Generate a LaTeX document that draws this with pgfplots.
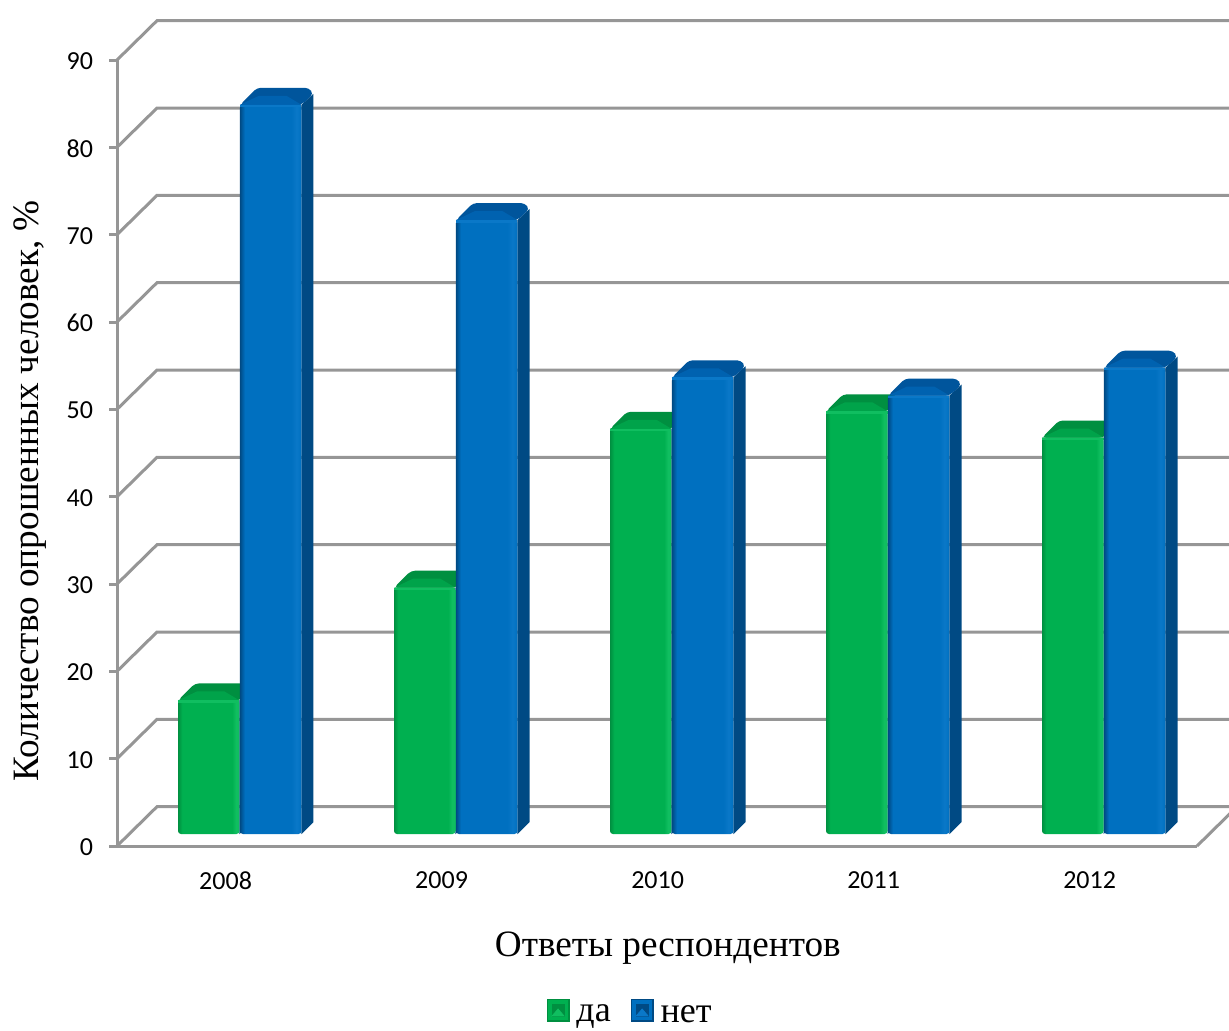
\documentclass[border=0pt]{standalone}
\usepackage{fontspec}
\setmainfont{Liberation Serif}
\newfontfamily\ticksfont{Carlito}
\usepackage{pgfplots}
\pgfplotsset{compat=1.18}

\definecolor{wallgray}{HTML}{969696}
\definecolor{grFace}{HTML}{00B050}
\definecolor{grTopDark}{HTML}{008F40}
\definecolor{grTop}{HTML}{00A34A}
\definecolor{grRim}{HTML}{10BE60}
\definecolor{blFace}{HTML}{0070C0}
\definecolor{blSide}{HTML}{004A84}
\definecolor{blTopDark}{HTML}{00559C}
\definecolor{blTop}{HTML}{0062B0}
\definecolor{blRim}{HTML}{0A78C8}

% Bar fronts: the path fills the middle half (25bp to 75bp) of these shadings.
\pgfdeclarehorizontalshading{grShade}{100bp}{
  color(0bp)=(grTopDark); color(25bp)=(grTopDark); color(28.5bp)=(grFace); color(69bp)=(grFace); color(72bp)=(grRim); color(75bp)=(grRim); color(100bp)=(grRim)}
\pgfdeclarehorizontalshading{blShade}{100bp}{
  color(0bp)=(blSide); color(25bp)=(blSide); color(29bp)=(blFace); color(67bp)=(blFace); color(71bp)=(blRim); color(75bp)=(blFace); color(100bp)=(blFace)}

% A bar with a front, a side and a bevelled top; sizes below are in axis units.
\def\pxy{0.11451}
\newcommand\threedbar[4]{% group, offset from the group, value, colour prefix
  \pgfmathsetmacro\xa{#1+#2}
  \pgfmathsetmacro\xb{\xa+0.2847}
  \pgfmathsetmacro\xc{\xb+0.0556}
  \pgfmathsetmacro\xd{\xa+0.0787}
  \pgfmathsetmacro\xe{\xb+0.0340}
  \pgfmathsetmacro\xf{\xa+0.0880}
  \pgfmathsetmacro\xg{\xb-0.0700}
  \pgfmathsetmacro\yb{1.374}
  \pgfmathsetmacro\yc{\yb+12*\pxy}
  \pgfmathsetmacro\yt{#3+\yb}
  \pgfmathsetmacro\yu{\yt+17*\pxy}
  \pgfmathsetmacro\ys{\yt+11*\pxy}
  \pgfmathsetmacro\ym{\yt+9*\pxy}
  \pgfmathsetmacro\yr{\yt-2.5*\pxy}
  \addplot[draw=none,fill=blSide,forget plot] coordinates {(\xb,\yb)(\xc,\yc)(\xc,\ys)(\xb,\yt)} --cycle;
  \ifx#4g\relax
    \addplot[draw=none,fill=grTopDark,rounded corners=2pt,forget plot] coordinates {(\xa,\yt)(\xd,\yu)(\xe,\yu)(\xc,\ys)(\xb,\yt)} --cycle;
    \addplot[draw=none,fill=grTop,forget plot] coordinates {(\xa,\yt)(\xf,\ym)(\xg,\ym)(\xb,\yt)} --cycle;
    \addplot[draw=none,shading=grShade,rounded corners=1.5pt,forget plot] coordinates {(\xa,\yb)(\xb,\yb)(\xb,\yt)(\xa,\yt)} --cycle;
    \addplot[draw=none,fill=grRim,forget plot] coordinates {(\xa,\yr)(\xb,\yr)(\xb,\yt)(\xa,\yt)} --cycle;
  \else
    \addplot[draw=none,fill=blTopDark,rounded corners=2pt,forget plot] coordinates {(\xa,\yt)(\xd,\yu)(\xe,\yu)(\xc,\ys)(\xb,\yt)} --cycle;
    \addplot[draw=none,fill=blTop,forget plot] coordinates {(\xa,\yt)(\xf,\ym)(\xg,\ym)(\xb,\yt)} --cycle;
    \addplot[draw=none,shading=blShade,rounded corners=1.5pt,forget plot] coordinates {(\xa,\yb)(\xb,\yb)(\xb,\yt)(\xa,\yt)} --cycle;
    \addplot[draw=none,fill=blRim,forget plot] coordinates {(\xa,\yr)(\xb,\yr)(\xb,\yt)(\xa,\yt)} --cycle;
  \fi
}
% One line of the left and back walls at a given percentage.
\newcommand\wallline[1]{%
  \pgfmathsetmacro\yw{#1+4.5}
  \addplot[wallgray,line width=1.5pt,forget plot] coordinates {(0,#1)(0.185,\yw)(5.2,\yw)};
}

\begin{document}
\begin{tikzpicture}
\path[use as bounding box,clip] (0,0) rectangle (614.5pt,515pt);
\begin{axis}[
  at={(58.5pt,92pt)}, anchor=south west,
  scale only axis, width=540pt, height=393pt,
  xmin=0, xmax=5, ymin=0, ymax=90,
  clip=false,
  axis x line*=bottom, axis y line*=left,
  axis line style={wallgray,line width=1.5pt,-},
  tick align=outside,
  xtick={0.5,1.5,2.5,3.5,4.5},
  xticklabels={2008,2009,2010,2011,2012},
  ytick={0,10,...,90},
  major tick length=4pt,
  y tick style={wallgray,line width=1.5pt},
  x tick style={draw=none},
  /pgf/number format/assume math mode=true,
  tick label style={font=\ticksfont\fontsize{13}{15}\selectfont,black},
  x tick label style={yshift=-5.5pt,xshift=0.3pt},
  y tick label style={xshift=-4.5pt,yshift=-0.6pt},
  xlabel={Ответы респондентов},
  ylabel={Количество опрошенных человек, \%},
  label style={font=\fontsize{18.6}{21}\selectfont},
  xlabel style={at={(axis description cs:0.51,-0.13)},anchor=center},
  ylabel style={at={(axis description cs:-0.0805,0.452)},anchor=center,rotate=0},
  legend style={draw=none,fill=none,at={(axis description cs:0.476,-0.2135)},anchor=center,
    legend columns=2,font=\fontsize{18}{20}\selectfont,inner ysep=0pt,
    /tikz/every even column/.append style={column sep=8pt}},
]
% walls and the floor
\wallline{10}\wallline{20}\wallline{30}\wallline{40}\wallline{50}
\wallline{60}\wallline{70}\wallline{80}\wallline{90}
\addplot[wallgray,line width=1.5pt,forget plot] coordinates {(0,0)(0.185,4.5)(5.2,4.5)};
\addplot[wallgray,line width=1.5pt,forget plot] coordinates {(5,0)(5.185,4.5)};

% да / нет
\threedbar{0}{0.2824}{15.3}{g}
\threedbar{0}{0.5694}{83.5}{b}
\threedbar{1}{0.2824}{28.2}{g}
\threedbar{1}{0.5694}{70.3}{b}
\threedbar{2}{0.2824}{46.4}{g}
\threedbar{2}{0.5694}{52.3}{b}
\threedbar{3}{0.2824}{48.4}{g}
\threedbar{3}{0.5694}{50.2}{b}
\threedbar{4}{0.2824}{45.4}{g}
\threedbar{4}{0.5694}{53.4}{b}

\addlegendimage{legend image code/.code={
  \fill[grTopDark] (0pt,-3pt) rectangle (11pt,8pt);
  \fill[grFace] (0.7pt,-2.3pt) rectangle (10.3pt,7.3pt);
  \fill[grTopDark] (2.5pt,-0.5pt) rectangle (8.5pt,5.5pt);
  \fill[grRim] (2.5pt,-0.5pt) -- (8.5pt,-0.5pt) -- (5.5pt,3pt) -- cycle;}}
\addlegendentry{\hspace{1.5pt}да}
\addlegendimage{legend image code/.code={
  \fill[blSide] (0pt,-3pt) rectangle (11pt,8pt);
  \fill[blFace] (0.7pt,-2.3pt) rectangle (10.3pt,7.3pt);
  \fill[blSide] (2.5pt,-0.5pt) rectangle (8.5pt,5.5pt);
  \fill[blRim] (2.5pt,-0.5pt) -- (8.5pt,-0.5pt) -- (5.5pt,3pt) -- cycle;}}
\addlegendentry{\hspace{1.5pt}нет}
\end{axis}
\end{tikzpicture}
\end{document}
